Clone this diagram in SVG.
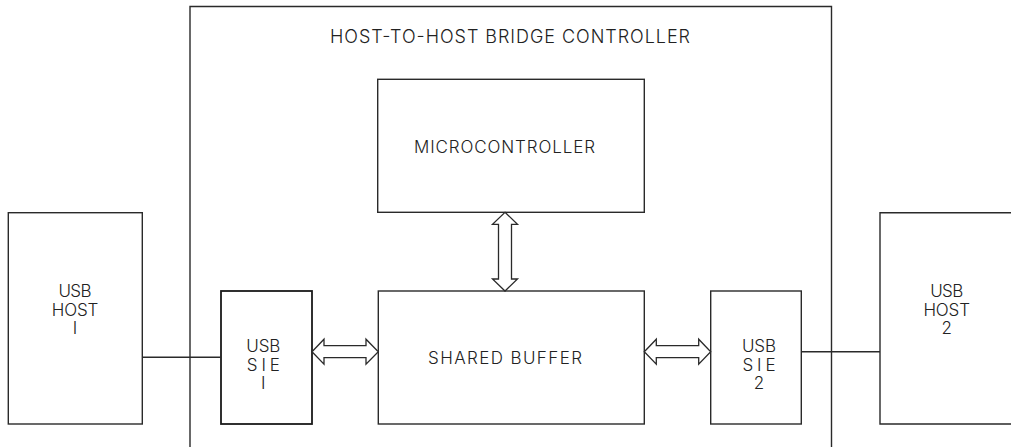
<svg xmlns="http://www.w3.org/2000/svg" width="1011" height="447" viewBox="0 0 1011 447">
<style>
.box{fill:none;stroke:#2a2a2a;stroke-width:1.4}
.thick{fill:none;stroke:#1a1a1a;stroke-width:1.8}
.ln{fill:none;stroke:#2a2a2a;stroke-width:1.4}
.arr{fill:#fff;stroke:#2a2a2a;stroke-width:1.3;stroke-linejoin:miter}
text{font-family:Inter,"Liberation Sans",Arial,sans-serif;font-weight:300;font-size:17px;fill:#222;text-anchor:middle}
.t18{font-size:18px}
</style>
<rect width="1011" height="447" fill="#fff"/>
<g id="bridge">
<path class="box" d="M190,447 V6.5 H831.5 V447"/>
<text class="t18" x="510" y="42.7" textLength="360" lengthAdjust="spacing">HOST-TO-HOST BRIDGE CONTROLLER</text>
</g>
<g id="microcontroller">
<rect class="box" x="377.7" y="79.3" width="266.6" height="133"/>
<text x="504.5" y="153.3" textLength="181" lengthAdjust="spacing">MICROCONTROLLER</text>
</g>
<g id="shared-buffer">
<rect class="box" x="378.3" y="291" width="266" height="133"/>
<text x="505" y="364.3" textLength="154" lengthAdjust="spacing">SHARED BUFFER</text>
</g>
<g id="usb-host-1">
<rect class="box" x="8.3" y="212.7" width="134" height="211.3"/>
<text x="75" y="296.5" textLength="33" lengthAdjust="spacing">USB</text>
<text x="75" y="316" textLength="46.6" lengthAdjust="spacing">HOST</text>
<text x="75" y="333.5">I</text>
</g>
<g id="usb-sie-1">
<rect class="thick" x="221" y="291" width="91" height="133"/>
<text x="263.3" y="352" textLength="34" lengthAdjust="spacing">USB</text>
<text x="263.3" y="371" textLength="33" lengthAdjust="spacing">SIE</text>
<text x="263.3" y="388.5">I</text>
</g>
<g id="usb-sie-2">
<rect class="box" x="710.7" y="291" width="90.6" height="133"/>
<text x="759" y="352" textLength="34" lengthAdjust="spacing">USB</text>
<text x="759" y="371" textLength="33" lengthAdjust="spacing">SIE</text>
<text x="759" y="388.5">2</text>
</g>
<g id="usb-host-2">
<path class="box" d="M1011,212.7 H880 V424 H1011"/>
<text x="946.7" y="296.5" textLength="33" lengthAdjust="spacing">USB</text>
<text x="946.7" y="316" textLength="46.6" lengthAdjust="spacing">HOST</text>
<text x="946.7" y="333.5">2</text>
</g>
<g id="connectors">
<line class="ln" x1="142.3" y1="357.3" x2="221" y2="357.3"/>
<line class="ln" x1="801.3" y1="351.7" x2="880" y2="351.7"/>
<polygon class="arr" points="312,351.7 324,339.2 324,345.7 366,345.7 366,339.2 378.3,351.7 366,364.2 366,357.7 324,357.7 324,364.2"/>
<polygon class="arr" points="644.3,351.7 656.3,339.2 656.3,345.7 698.7,345.7 698.7,339.2 710.7,351.7 698.7,364.2 698.7,357.7 656.3,357.7 656.3,364.2"/>
<polygon class="arr" points="505,212.3 517.5,224.3 511.5,224.3 511.5,279 517.5,279 505,291 492.5,279 498.5,279 498.5,224.3 492.5,224.3"/>
</g>
</svg>
